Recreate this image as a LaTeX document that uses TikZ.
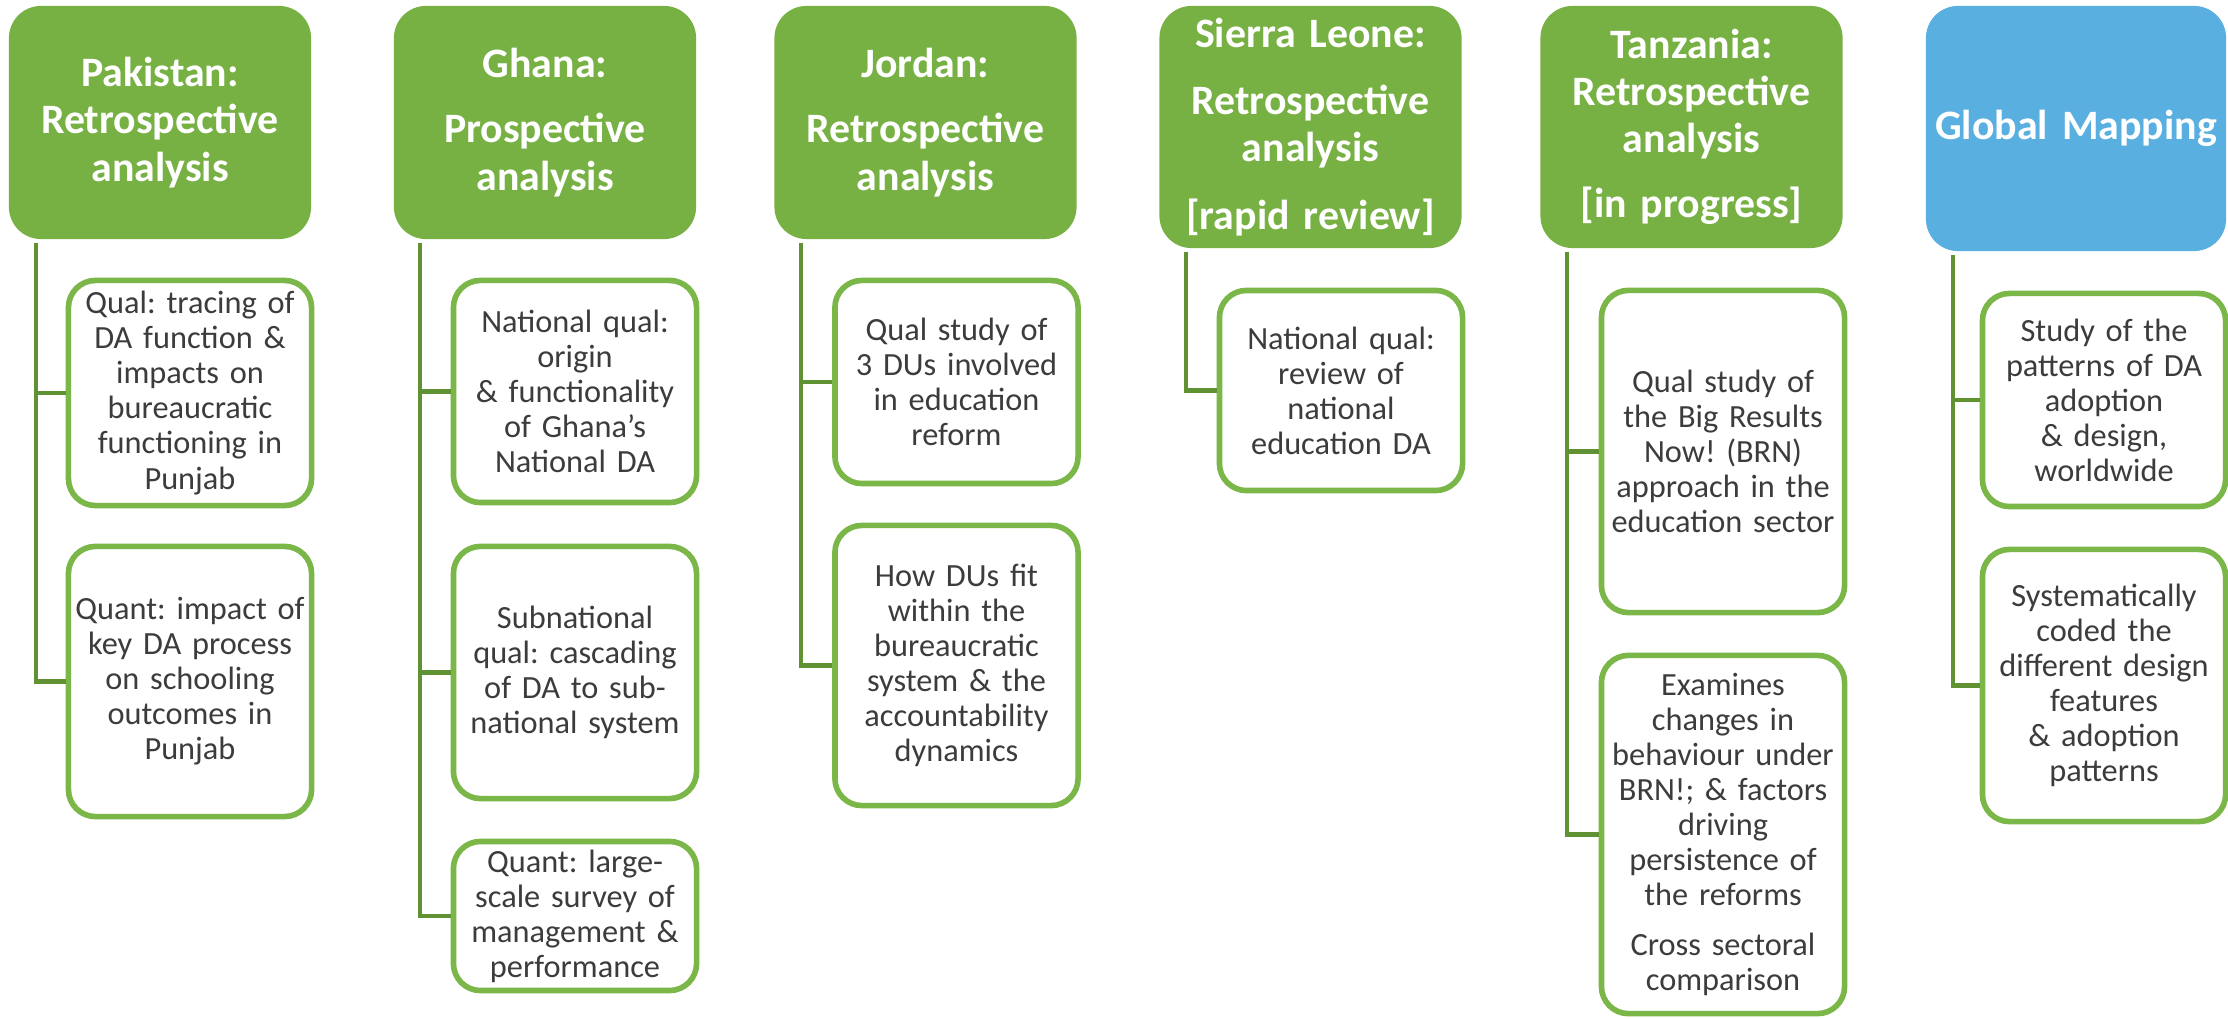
\documentclass[tikz,border=0pt]{standalone}
\usepackage{fontspec}
\setmainfont{Carlito}
\usepackage{xcolor}
\usepackage{tikz}
\definecolor{HeaderGreen}{RGB}{119,176,67}
\definecolor{MapBlue}{RGB}{90,175,225}
\definecolor{BoxGreen}{RGB}{122,182,72}
\definecolor{StemGreen}{RGB}{96,146,52}
\definecolor{TextGray}{RGB}{60,60,60}
\frenchspacing

\begin{document}
\begin{tikzpicture}[x=0.01cm,y=-0.01cm,
  head/.style={fill=HeaderGreen,rounded corners=0.32cm,minimum width=3.02cm,text width=3cm,
    align=center,inner sep=0pt,text=white,font=\bfseries\fontsize{11.9}{13.4}\selectfont},
  study/.style={draw=BoxGreen,line width=1.6pt,fill=white,rounded corners=0.27cm,
    minimum width=2.43cm,text width=2.43cm,align=center,inner sep=0pt,text=TextGray,
    font=\fontsize{9.2}{9.96}\selectfont},
  stem/.style={draw=StemGreen,line width=1.2pt}]
  \useasboundingbox (0,0) rectangle (2228,1019);
  % headers
  \node[head,minimum height=2.33cm] (pak) at (160,122.5) {Pakistan:\\Retrospective\\analysis};
  \node[head,minimum height=2.33cm] (gha) at (545,122.5) {Ghana:\\[0.18cm]Prospective\\analysis};
  \node[head,minimum height=2.33cm] (jor) at (925.5,122.5) {Jordan:\\[0.18cm]Retrospective\\analysis};
  \node[head,minimum height=2.42cm] (sle) at (1310.5,127) {Sierra Leone:\\[0.2cm]Retrospective\\analysis\\[0.2cm][rapid review]};
  \node[head,minimum height=2.42cm] (tza) at (1691.5,127) {Tanzania:\\Retrospective\\analysis\\[0.18cm][in progress]};
  \node[head,fill=MapBlue,minimum width=3cm,minimum height=2.45cm] (glo) at (2076,128.5) {Global Mapping};
  % studies
  \node[study,minimum height=2.25cm] (pak1) at (190,393) {Qual: tracing of\\DA function \&\\impacts on\\bureaucratic\\functioning in\\Punjab};
  \node[study,minimum height=2.70cm] (pak2) at (190,681.5) {Quant: impact of\\key DA process\\on schooling\\outcomes in\\Punjab};
  \node[study,minimum height=2.22cm] (gha1) at (575,391.5) {National qual:\\origin\\\& functionality\\of Ghana's\\National DA};
  \node[study,minimum height=2.52cm] (gha2) at (575,672.5) {Subnational\\qual: cascading\\of DA to sub-\\national system};
  \node[study,minimum height=1.49cm] (gha3) at (575,916) {Quant: large-\\scale survey of\\management \&\\performance};
  \node[study,minimum height=2.03cm] (jor1) at (956.5,382) {Qual study of\\3 DUs involved\\in education\\reform};
  \node[study,minimum height=2.80cm] (jor2) at (956.5,665.5) {How DUs fit\\within the\\bureaucratic\\system \& the\\accountability\\dynamics};
  \node[study,minimum height=2.00cm] (sle1) at (1341,390.5) {National qual:\\review of\\national\\education DA};
  \node[study,minimum height=3.22cm] (tza1) at (1723,451.5) {Qual study of\\the Big Results\\Now! (BRN)\\approach in the\\education sector};
  \node[study,minimum height=3.58cm] (tza2) at (1723,834.5) {Examines\\changes in\\behaviour under\\BRN!; \& factors\\driving\\persistence of\\the reforms\\[0.15cm]Cross sectoral\\comparison};
  \node[study,minimum width=2.37cm,minimum height=2.13cm] (glo1) at (2104,400) {Study of the\\patterns of DA\\adoption\\\& design,\\worldwide};
  \node[study,minimum width=2.37cm,minimum height=2.72cm] (glo2) at (2104,685.5) {Systematically\\coded the\\different design\\features\\\& adoption\\patterns};
  % stems
  \draw[stem] ([xshift=0.28cm,yshift=-0.03cm]pak.south west) |- (pak1.west);
  \draw[stem] ([xshift=0.28cm,yshift=-0.03cm]pak.south west) |- (pak2.west);
  \draw[stem] ([xshift=0.27cm,yshift=-0.03cm]gha.south west) |- (gha1.west);
  \draw[stem] ([xshift=0.27cm,yshift=-0.03cm]gha.south west) |- (gha2.west);
  \draw[stem] ([xshift=0.27cm,yshift=-0.03cm]gha.south west) |- (gha3.west);
  \draw[stem] ([xshift=0.27cm,yshift=-0.03cm]jor.south west) |- (jor1.west);
  \draw[stem] ([xshift=0.27cm,yshift=-0.03cm]jor.south west) |- (jor2.west);
  \draw[stem] ([xshift=0.27cm,yshift=-0.03cm]sle.south west) |- (sle1.west);
  \draw[stem] ([xshift=0.27cm,yshift=-0.03cm]tza.south west) |- (tza1.west);
  \draw[stem] ([xshift=0.27cm,yshift=-0.03cm]tza.south west) |- (tza2.west);
  \draw[stem] ([xshift=0.28cm,yshift=-0.03cm]glo.south west) |- (glo1.west);
  \draw[stem] ([xshift=0.28cm,yshift=-0.03cm]glo.south west) |- (glo2.west);
\end{tikzpicture}
\end{document}
